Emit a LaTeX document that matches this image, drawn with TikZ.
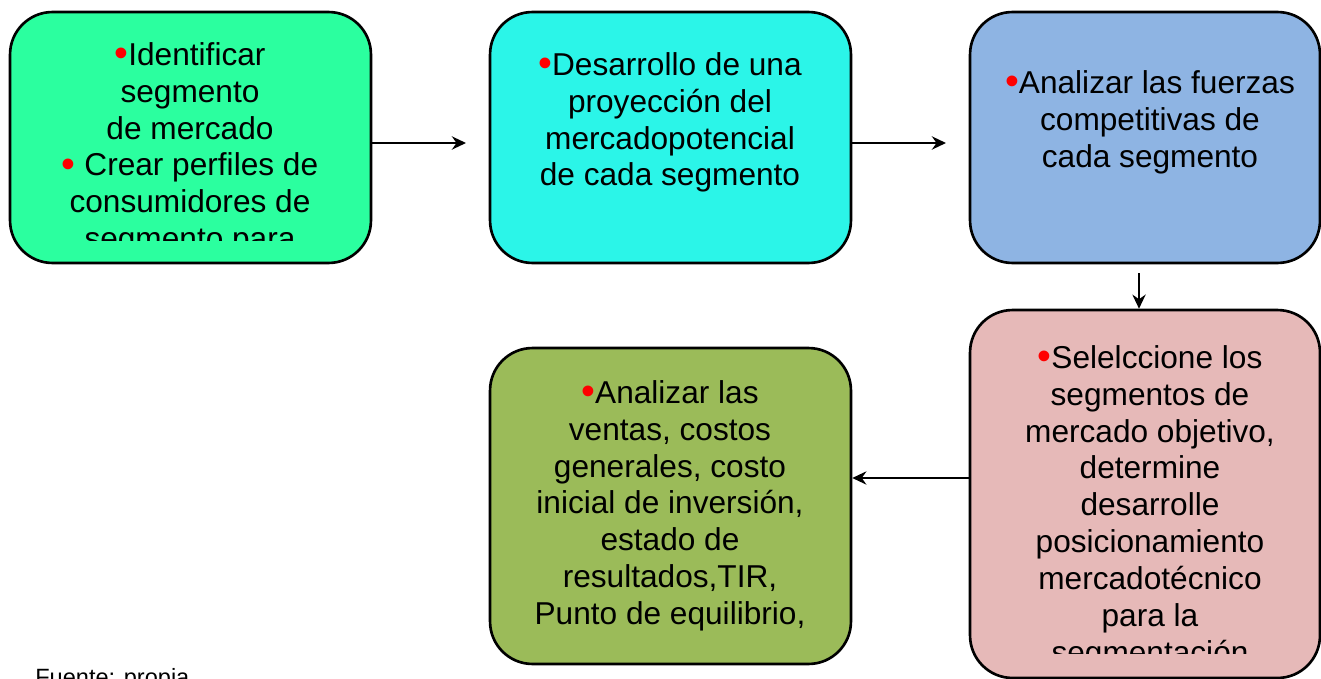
\documentclass[tikz,border=0pt]{standalone}
\usepackage{fontspec}
\setmainfont{Liberation Sans}
\usetikzlibrary{arrows.meta}

\definecolor{verdeA}{RGB}{43,255,159}
\definecolor{cianB}{RGB}{43,245,232}
\definecolor{azulC}{RGB}{142,180,227}
\definecolor{rosaD}{RGB}{230,185,184}
\definecolor{oliva}{RGB}{155,187,89}

\newcommand{\bala}{\textcolor{red}{\raisebox{-0.05em}{\scalebox{1.25}{•}}}}

\begin{document}
\begin{tikzpicture}[x=0.02cm, y=-0.02cm,
    caja/.style={draw=black, line width=1.5pt, rounded corners=0.85cm, inner sep=0pt},
    texto/.style={anchor=north, inner sep=0pt, align=center,
      font=\fontsize{18}{21}\selectfont},
    flecha/.style={-{Stealth[length=8pt,width=7.5pt]}, line width=1.35pt}]
      \clip (0,0) rectangle (1321,679);

      % cajas
      \node[caja, fill=verdeA, minimum width=7.22cm, minimum height=5.02cm] (identificar) at (190.5,137.5) {};
      \node[caja, fill=cianB,  minimum width=7.22cm, minimum height=5.02cm] (proyeccion)  at (670.5,137.5) {};
      \node[caja, fill=azulC,  minimum width=7cm,    minimum height=5.02cm] (fuerzas)     at (1145,137.5)  {};
      \node[caja, fill=rosaD,  minimum width=7cm,    minimum height=7.36cm] (seleccione)  at (1145,494)    {};
      \node[caja, fill=oliva,  minimum width=7.22cm, minimum height=6.32cm] (ventas)      at (670.5,506)   {};

      % textos
      \begin{scope}
        \clip (10,12) rectangle (371,240);
        \node[texto] (t-identificar) at (190,39.1)
          {\strut\bala{}Identificar\\ segmento\\ de mercado\\ \bala{} Crear perfiles de\\ consumidores de\\ segmento para};
      \end{scope}
      \node[texto] (t-proyeccion) at (670,49.1)
        {\strut\bala{}Desarrollo de una\\ proyección del\\ mercadopotencial\\ de cada segmento};
      \node[texto] (t-fuerzas) at (1150,67.1)
        {\strut\bala{}Analizar las fuerzas\\ competitivas de\\ cada segmento};
      \begin{scope}
        \clip (970,310) rectangle (1321,653);
        \node[texto] (t-seleccione) at (1150,342.1)
          {\strut\bala{}Selelccione los\\ segmentos de\\ mercado objetivo,\\ determine\\ desarrolle\\ posicionamiento\\ mercadotécnico\\ para la\\ segmentación};
      \end{scope}
      \node[texto] (t-ventas) at (670,377.1)
        {\strut\bala{}Analizar las\\ ventas, costos\\ generales, costo\\ inicial de inversión,\\ estado de\\ resultados,TIR,\\ Punto de equilibrio,};

      \node[anchor=base west, inner sep=0pt, font=\fontsize{13.4}{16}\selectfont] (fuente) at (35,685) {Fuente: propia};

      % flechas
      \coordinate (f1) at (466,143);
      \coordinate (f2) at (946,143);
      \coordinate (f3) at (1139,273);
      \coordinate (f4) at (910,478);

      \draw[flecha] (identificar.east |- f1) -- (f1);
      \draw[flecha] (proyeccion.east |- f2)  -- (f2);
      \draw[flecha] (f3) -- (f3 |- seleccione.north);
      \draw[flecha] (seleccione.west |- f4)  -- (ventas.east |- f4);
    \end{tikzpicture}
\end{document}
